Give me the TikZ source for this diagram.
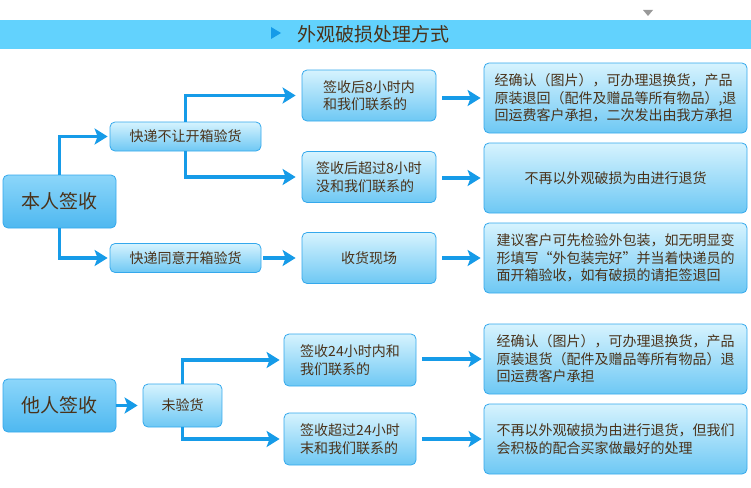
\documentclass[tikz,border=0pt]{standalone}
\usepackage{fontspec}
\setmainfont{Noto Sans CJK SC}
\usetikzlibrary{arrows.meta}
\definecolor{barblue}{RGB}{98,210,253}
\definecolor{lineblue}{RGB}{22,155,232}
\definecolor{edgeblue}{RGB}{52,168,236}
\definecolor{txtbrown}{RGB}{74,50,26}
\definecolor{boxtop}{RGB}{214,243,254}
\definecolor{boxbot}{RGB}{110,200,244}
\definecolor{bigtop}{RGB}{140,214,250}
\definecolor{bigbot}{RGB}{78,184,240}
\begin{document}
\begin{tikzpicture}[x=1pt,y=-1pt,
  box/.style={draw=edgeblue, line width=0.8pt, rounded corners=5pt,
    top color=boxtop, bottom color=boxbot, text=txtbrown,
    inner sep=0pt, font=\fontsize{14}{17.5}\selectfont},
  bigbox/.style={box, top color=bigtop, bottom color=bigbot,
    minimum width=113pt, minimum height=53pt, font=\fontsize{19}{22}\selectfont},
  midbox/.style={box, minimum width=151pt, minimum height=29pt},
  stepbox/.style={box, minimum width=134pt, minimum height=51pt, align=left},
  resbox/.style={box, minimum width=263pt, minimum height=70pt, align=left},
  arr/.style={draw=lineblue, line width=3.2pt,
    -{Stealth[length=13pt,width=16pt,inset=3pt]}}]
\useasboundingbox (0,0) rectangle (751,487);
% title bar
\fill[barblue] (0,20) rectangle (751,49);
\fill[gray!80] (643,10) -- (653,10) -- (648,16) -- cycle;
\fill[lineblue] (271,27) -- (281,33) -- (271,39) -- cycle;
\node[text=txtbrown, font=\fontsize{19}{22}\selectfont] (title) at (373,34) {外观破损处理方式};

% upper part
\node[bigbox] (self) at (59.5,201.5) {本人签收};
\node[midbox] (nokai) at (185.5,136.5) {快递不让开箱验货};
\node[midbox] (yeskai) at (185.5,258) {快递同意开箱验货};
\node[stepbox] (in8) at (369,95.5) {签收后8小时内\\和我们联系的};
\node[stepbox] (over8) at (369,177) {签收后超过8小时\\没和我们联系的};
\node[stepbox] (scene) at (369,258) {收货现场};
\node[resbox] (res1) at (615.5,98) {经确认（图片），可办理退换货，产品\\原装退回（配件及赠品等所有物品）,退\\回运费客户承担，二次发出由我方承担};
\node[resbox] (res2) at (615.5,178) {不再以外观破损为由进行退货};
\node[resbox] (res3) at (615.5,258) {建议客户可先检验外包装，如无明显变\\形填写“外包装完好”并当着快递员的\\面开箱验收，如有破损的请拒签退回};

\draw[arr, shorten >=2pt] (self.north) |- (nokai.west);
\draw[arr, shorten >=2pt] (self.south) |- (yeskai.west);
\draw[arr, shorten >=6pt] (nokai.north) |- (in8.west);
\draw[arr, shorten >=6pt] (nokai.south) |- (over8.west);
\draw[arr, shorten <=2pt, shorten >=6pt] (yeskai.east) -- (scene.west);
\draw[arr, shorten <=6pt, shorten >=3pt] (in8.east |- res1.west) -- (res1.west);
\draw[arr, shorten <=6pt, shorten >=3pt] (over8.east |- res2.west) -- (res2.west);
\draw[arr, shorten <=6pt, shorten >=3pt] (scene.east) -- (res3.west);

% lower part
\node[bigbox] (other) at (59.5,405.5) {他人签收};
\node[midbox, minimum width=79pt, minimum height=43pt] (unchk) at (182.5,405.5) {未验货};
\node[stepbox, minimum width=132pt, minimum height=52pt] (in24) at (350,360) {签收24小时内和\\我们联系的};
\node[stepbox, minimum width=132pt, minimum height=52pt] (over24) at (350,439) {签收超过24小时\\末和我们联系的};
\node[resbox] (res4) at (615.5,359) {经确认（图片），可办理退换货，产品\\原装退货（配件及赠品等所有物品）退\\回运费客户承担};
\node[resbox] (res5) at (615.5,439) {不再以外观破损为由进行退货，但我们\\会积极的配合买家做最好的处理};

\draw[arr, shorten >=5pt] (other.east) -- (unchk.west);
\draw[arr, shorten >=4pt] (unchk.north) |- (in24.west);
\draw[arr, shorten >=4pt] (unchk.south) |- (over24.west);
\draw[arr, shorten <=6pt, shorten >=2pt] (in24.east |- res4.west) -- (res4.west);
\draw[arr, shorten <=6pt, shorten >=2pt] (over24.east) -- (res5.west);
\end{tikzpicture}
\end{document}
